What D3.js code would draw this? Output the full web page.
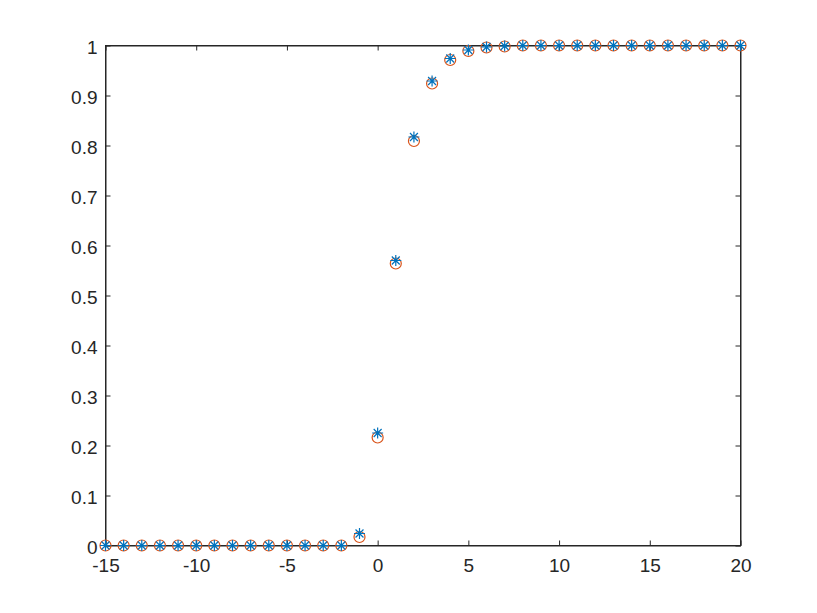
<!DOCTYPE html>
<html><head><meta charset="utf-8">
<script src="https://cdn.jsdelivr.net/npm/d3@7"></script>
<style>body{margin:0;background:#fff;} svg{display:block;}</style>
</head><body>
<svg id="c" width="817" height="613"></svg>
<script>
const xs = [-15,-14,-13,-12,-11,-10,-9,-8,-7,-6,-5,-4,-3,-2,-1,0,1,2,3,4,5,6,7,8,9,10,11,12,13,14,15,16,17,18,19,20];
const seriesStar = [0,0,0,0,0,0,0,0,0,0,0,0,0,0,0.024,0.225,0.570,0.817,0.929,0.974,0.991,0.997,0.999,1,1,1,1,1,1,1,1,1,1,1,1,1];
const seriesCircle = [0,0,0,0,0,0,0,0,0,0,0,0,0,0,0.017,0.216,0.564,0.809,0.924,0.971,0.989,0.996,0.998,1,1,1,1,1,1,1,1,1,1,1,1,1];
const xTicks = [-15,-10,-5,0,5,10,15,20];
const xTickLabels = ["-15","-10","-5","0","5","10","15","20"];
const yTicks = [0,0.1,0.2,0.3,0.4,0.5,0.6,0.7,0.8,0.9,1];
const yTickLabels = ["0","0.1","0.2","0.3","0.4","0.5","0.6","0.7","0.8","0.9","1"];

const svg = d3.select("#c");
const L=105.5, R=740.5, T=45.5, B=545.5;
const x = d3.scaleLinear().domain([-15,20]).range([L,R]);
const y = d3.scaleLinear().domain([0,1]).range([B,T]);
const axisCol = "#262626";
const font = "'Liberation Sans', Arial, sans-serif";

svg.append("rect").attr("x",L).attr("y",T).attr("width",R-L).attr("height",B-T)
  .attr("fill","#fff").attr("stroke",axisCol).attr("stroke-width",1);

const tl = 5;
const xb = d3.axisBottom(x).tickValues(xTicks).tickSizeInner(-tl).tickSizeOuter(0).tickPadding(13).tickFormat((d,i)=>xTickLabels[i]);
const gx = svg.append("g").attr("transform",`translate(0,${B})`).call(xb);
const xt = d3.axisTop(x).tickValues(xTicks).tickSizeInner(-tl).tickSizeOuter(0).tickFormat("");
const gxt = svg.append("g").attr("transform",`translate(0,${T})`).call(xt);
const yl = d3.axisLeft(y).tickValues(yTicks).tickSizeInner(-tl).tickSizeOuter(0).tickPadding(8).tickFormat((d,i)=>yTickLabels[i]);
const gy = svg.append("g").attr("transform",`translate(${L},0)`).call(yl);
const yr = d3.axisRight(y).tickValues(yTicks).tickSizeInner(-tl).tickSizeOuter(0).tickFormat("");
const gyr = svg.append("g").attr("transform",`translate(${R},0)`).call(yr);
[gx,gxt,gy,gyr].forEach(g=>{
  g.attr("font-size",null).attr("font-family",null);
  g.select(".domain").attr("stroke",axisCol);
  g.selectAll(".tick line").attr("stroke",axisCol);
  g.selectAll("text").attr("fill",axisCol).attr("font-family",font).attr("font-size",19);
});
gy.selectAll("text").attr("dy","0.42em");

const orange = "#D95319", blue = "#0072BD";
svg.append("g").selectAll("circle").data(xs).join("circle")
  .attr("cx",(d)=>x(d)).attr("cy",(d,i)=>y(seriesCircle[i])).attr("r",5.5)
  .attr("fill","none").attr("stroke",orange).attr("stroke-width",1.2);
const s = 5.5, sd = s*0.72;
const star = `M0,${-s}L0,${s}M${-s},0L${s},0M${-sd},${-sd}L${sd},${sd}M${-sd},${sd}L${sd},${-sd}`;
svg.append("g").selectAll("path").data(xs).join("path")
  .attr("transform",(d,i)=>`translate(${x(d)},${y(seriesStar[i])})`)
  .attr("d",star).attr("fill","none").attr("stroke",blue).attr("stroke-width",1.2);
</script>
</body></html>
